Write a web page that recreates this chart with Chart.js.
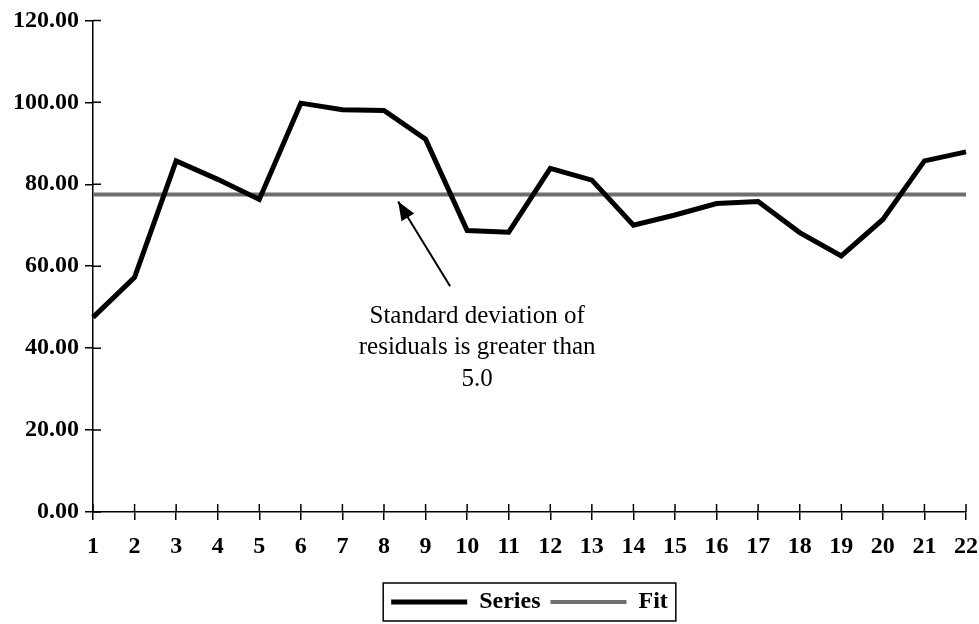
<!DOCTYPE html>
<html>
<head>
<meta charset="utf-8">
<script src="https://cdn.jsdelivr.net/npm/chart.js@4.4.1/dist/chart.umd.min.js"></script>
<style>
  html, body { margin: 0; padding: 0; background: #fff; }
  #wrap { width: 979px; height: 624px; }
</style>
</head>
<body>
<div id="wrap"><canvas id="myChart" width="979" height="624"></canvas></div>
<script>
var labels = ['1', '2', '3', '4', '5', '6', '7', '8', '9', '10', '11',
              '12', '13', '14', '15', '16', '17', '18', '19', '20', '21', '22'];
var seriesValues = [47.5, 57.3, 85.7, 81.2, 76.3, 99.8, 98.2, 98.0, 91.0, 68.7, 68.3,
                    83.9, 81.0, 70.0, 72.5, 75.3, 75.8, 68.2, 62.5, 71.4, 85.7, 87.9];
var fitValues = [77.5, 77.5, 77.5, 77.5, 77.5, 77.5, 77.5, 77.5, 77.5, 77.5, 77.5,
                 77.5, 77.5, 77.5, 77.5, 77.5, 77.5, 77.5, 77.5, 77.5, 77.5, 77.5];
var yTicks = [0, 20, 40, 60, 80, 100, 120];
var noteLines = ['Standard deviation of', 'residuals is greater than', '5.0'];

var serif = '"Liberation Serif", "Times New Roman", serif';

// tick marks that cross the axis line, plus the note with its arrow
var extras = {
    id: 'extras',
    afterDraw: function (chart) {
        var c = chart.ctx;
        var x = chart.scales.x, y = chart.scales.y;
        var area = chart.chartArea;
        c.save();
        c.strokeStyle = '#000';
        c.lineWidth = 1.5;
        c.beginPath();
        y.ticks.forEach(function (t) {
            var py = y.getPixelForValue(t.value);
            c.moveTo(area.left, py);
            c.lineTo(area.left + 8, py);
        });
        labels.forEach(function (l, i) {
            var px = x.getPixelForValue(i);
            c.moveTo(px, area.bottom);
            c.lineTo(px, area.bottom - 8);
        });
        c.stroke();

        // arrow
        var tx = x.getPixelForValue(7.34), ty = y.getPixelForValue(75.8);
        var sx = x.getPixelForValue(8.59), sy = y.getPixelForValue(55.1);
        c.lineWidth = 2;
        c.beginPath();
        c.moveTo(sx, sy);
        c.lineTo(tx, ty);
        c.stroke();
        var ang = Math.atan2(ty - sy, tx - sx);
        c.fillStyle = '#000';
        c.beginPath();
        c.moveTo(tx, ty);
        c.lineTo(tx - 20 * Math.cos(ang - 0.38), ty - 20 * Math.sin(ang - 0.38));
        c.lineTo(tx - 20 * Math.cos(ang + 0.38), ty - 20 * Math.sin(ang + 0.38));
        c.closePath();
        c.fill();

        // note
        c.font = '25px ' + serif;
        c.textAlign = 'center';
        c.textBaseline = 'middle';
        var cx = x.getPixelForValue(9.24);
        var top = y.getPixelForValue(47.8);
        noteLines.forEach(function (s, i) {
            c.fillText(s, cx, top + i * 31.5);
        });

        // legend frame
        var boxes = chart.legend.legendHitBoxes;
        if (boxes && boxes.length) {
            var first = boxes[0], last = boxes[boxes.length - 1];
            c.lineWidth = 1.5;
            c.strokeRect(first.left - 8, first.top - 7,
                         last.left + last.width - first.left + 16, first.height + 14);
        }
        c.restore();
    }
};

var chart = new Chart(document.getElementById('myChart').getContext('2d'), {
    type: 'line',
    data: {
        labels: labels,
        datasets: [{
            label: 'Series',
            data: seriesValues,
            borderColor: '#000',
            backgroundColor: '#000',
            borderWidth: 5,
            pointRadius: 0,
            pointStyle: 'line',
            tension: 0
        }, {
            label: 'Fit',
            data: fitValues,
            borderColor: '#6e6e6e',
            backgroundColor: '#6e6e6e',
            borderWidth: 4,
            pointRadius: 0,
            pointStyle: 'line',
            tension: 0
        }]
    },
    options: {
        responsive: false,
        animation: false,
        layout: { padding: { top: 19, right: 0, left: 0, bottom: 0 } },
        plugins: {
            tooltip: { enabled: false },
            legend: {
                position: 'bottom',
                fullSize: false,
                labels: {
                    usePointStyle: true,
                    pointStyleWidth: 76,
                    boxHeight: 5,
                    padding: 10,
                    color: '#000',
                    font: { family: serif, size: 24, weight: 'bold' }
                }
            }
        },
        scales: {
            x: {
                offset: false,
                grid: { drawOnChartArea: false, drawTicks: true, tickLength: 8, color: '#000', lineWidth: 1.5 },
                border: { color: '#000', width: 1.5 },
                ticks: {
                    color: '#000',
                    padding: 12,
                    maxRotation: 0,
                    autoSkip: false,
                    font: { family: serif, size: 24, weight: 'bold' }
                },
                afterFit: function (s) { s.height = 68; s.paddingRight = 13; }
            },
            y: {
                min: 0,
                max: 120,
                afterBuildTicks: function (s) {
                    s.ticks = yTicks.map(function (v) { return { value: v }; });
                },
                grid: { drawOnChartArea: false, drawTicks: true, tickLength: 8, color: '#000', lineWidth: 1.5 },
                border: { color: '#000', width: 1.5 },
                ticks: {
                    color: '#000',
                    padding: 6,
                    callback: function (v) { return Number(v).toFixed(2); },
                    font: { family: serif, size: 24, weight: 'bold' }
                },
                afterFit: function (s) { s.width = 93; }
            }
        }
    },
    plugins: [extras]
});
</script>
</body>
</html>
